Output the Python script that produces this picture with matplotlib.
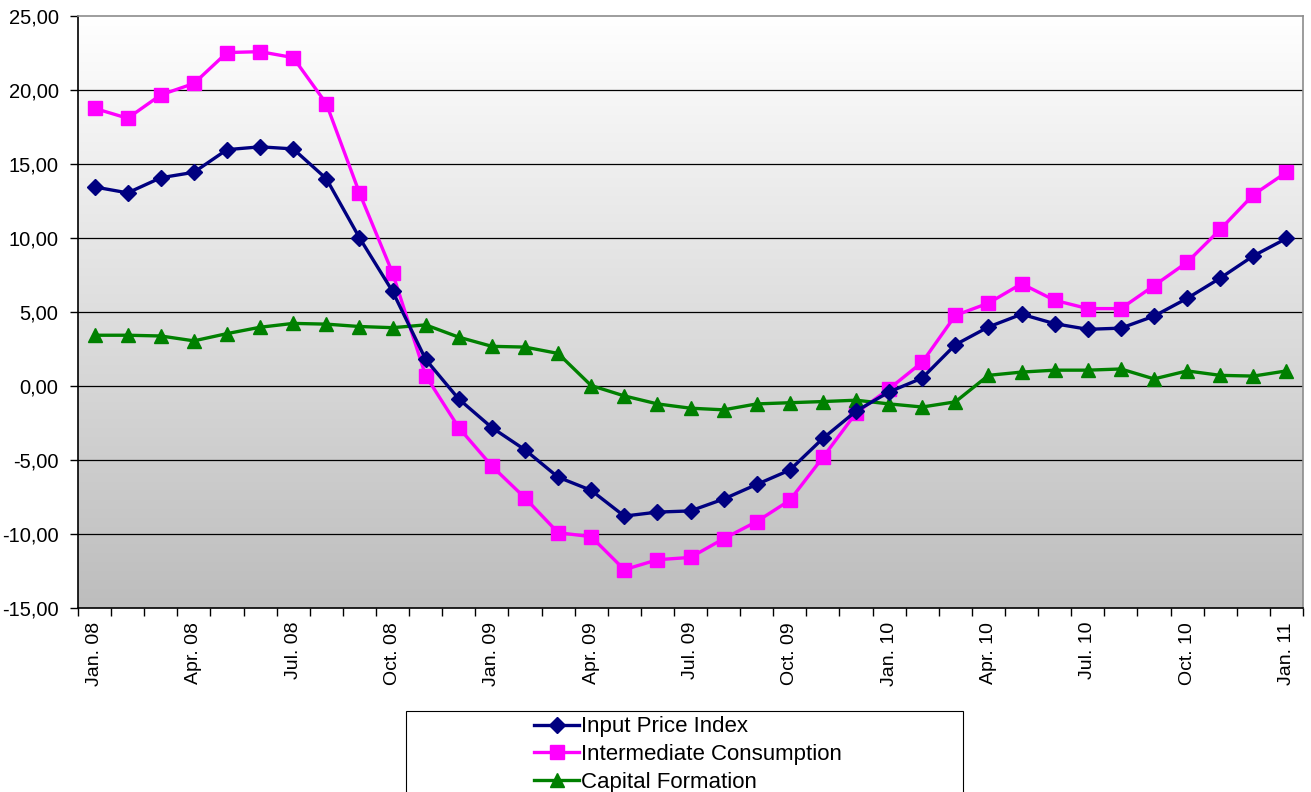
import numpy as np
import matplotlib
matplotlib.use("Agg")
import matplotlib.pyplot as plt
from matplotlib.patches import Rectangle
from matplotlib.ticker import FuncFormatter

plt.rcParams['font.family'] = ['Liberation Sans', 'DejaVu Sans']

# monthly values Jan. 08 .. Jan. 11
months = ["Jan. 08", "Feb. 08", "Mar. 08", "Apr. 08", "May 08", "Jun. 08", "Jul. 08", "Aug. 08",
          "Sep. 08", "Oct. 08", "Nov. 08", "Dec. 08", "Jan. 09", "Feb. 09", "Mar. 09", "Apr. 09",
          "May 09", "Jun. 09", "Jul. 09", "Aug. 09", "Sep. 09", "Oct. 09", "Nov. 09", "Dec. 09",
          "Jan. 10", "Feb. 10", "Mar. 10", "Apr. 10", "May 10", "Jun. 10", "Jul. 10", "Aug. 10",
          "Sep. 10", "Oct. 10", "Nov. 10", "Dec. 10", "Jan. 11"]

input_price = [13.45, 13.05, 14.07, 14.44, 15.97, 16.16, 16.02, 14.01, 10.02, 6.40, 1.80, -0.88,
               -2.81, -4.31, -6.16, -7.05, -8.79, -8.52, -8.44, -7.64, -6.65, -5.68, -3.54, -1.70,
               -0.40, 0.54, 2.79, 3.99, 4.85, 4.21, 3.83, 3.91, 4.72, 5.92, 7.29, 8.79, 9.97]

intermediate = [18.76, 18.09, 19.67, 20.44, 22.53, 22.59, 22.19, 19.08, 13.05, 7.64, 0.70, -2.81,
                -5.41, -7.56, -9.91, -10.18, -12.41, -11.74, -11.58, -10.32, -9.16, -7.72, -4.82, -1.82,
                -0.19, 1.61, 4.77, 5.60, 6.91, 5.79, 5.23, 5.23, 6.78, 8.36, 10.58, 12.92, 14.44]

capital = [3.43, 3.43, 3.38, 3.05, 3.54, 3.97, 4.23, 4.18, 4.02, 3.94, 4.13, 3.30,
           2.68, 2.63, 2.20, 0.03, -0.67, -1.21, -1.50, -1.61, -1.21, -1.13, -1.05, -0.96,
           -1.21, -1.42, -1.07, 0.72, 0.94, 1.07, 1.07, 1.15, 0.48, 1.02, 0.72, 0.67, 1.02]

W, H = 1311, 792
fig = plt.figure(figsize=(W / 100, H / 100), dpi=100)
ax = fig.add_axes([78 / W, 1 - 608 / H, (1303 - 78) / W, (608 - 16) / H])

x = np.arange(len(months))

# grey gradient background, white at top
grad = np.linspace(0, 1, 256).reshape(-1, 1)
cmap = matplotlib.colors.LinearSegmentedColormap.from_list("bg", ["#ffffff", "#bdbdbd"])
ax.imshow(grad, cmap=cmap, aspect="auto", origin="upper",
          extent=(-0.5, len(months) - 0.5, -15, 25), zorder=0)
ax.set_xlim(-0.5, len(months) - 0.5)
ax.set_ylim(-15, 25)

for yv in range(-10, 25, 5):
    ax.axhline(yv, color="black", lw=0.9, zorder=1)

ax.plot(x, input_price, color="#000080", lw=2.4, marker="D", ms=8.5, label="Input Price Index", zorder=4)
ax.plot(x, intermediate, color="#ff00ff", lw=2.4, marker="s", ms=10, label="Intermediate Consumption", zorder=3)
ax.plot(x, capital, color="#008000", lw=2.4, marker="^", ms=10, label="Capital Formation", zorder=3)

ax.set_yticks(range(-15, 30, 5))
ax.yaxis.set_major_formatter(FuncFormatter(lambda v, p: ("%.2f" % v).replace(".", ",")))
ax.tick_params(axis="y", labelsize=14.5, length=6, width=1, pad=8)

# ticks between the months, labels every third month
ax.set_xticks(np.arange(-0.5, len(months), 1.0))
ax.set_xticklabels([])
ax.tick_params(axis="x", which="major", length=6, width=1)
ax.set_xticks(x[::3], minor=True)
ax.set_xticklabels([months[i] for i in x[::3]], minor=True, rotation=90, fontsize=14)
ax.tick_params(axis="x", which="minor", length=0, pad=10)

ax.spines["left"].set_color("black")
ax.spines["bottom"].set_color("black")
ax.spines["top"].set_color("#8c8c8c")
ax.spines["right"].set_color("#8c8c8c")
for s in ax.spines.values():
    s.set_linewidth(1.2)

# legend box runs off the bottom edge
fig.patches.append(Rectangle((406 / W, -0.05), (963 - 406) / W, 0.05 + (792 - 711) / H,
                             transform=fig.transFigure, fill=False, edgecolor="black", lw=0.8))
h, l = ax.get_legend_handles_labels()
fig.legend(h, l, loc="upper left", bbox_to_anchor=(530 / W, 1 - 712 / H), frameon=False,
           fontsize=16, handlelength=2.0, handletextpad=0.1, labelspacing=0.3,
           borderaxespad=0, borderpad=0.2)

fig.savefig("out.png", dpi=100)
